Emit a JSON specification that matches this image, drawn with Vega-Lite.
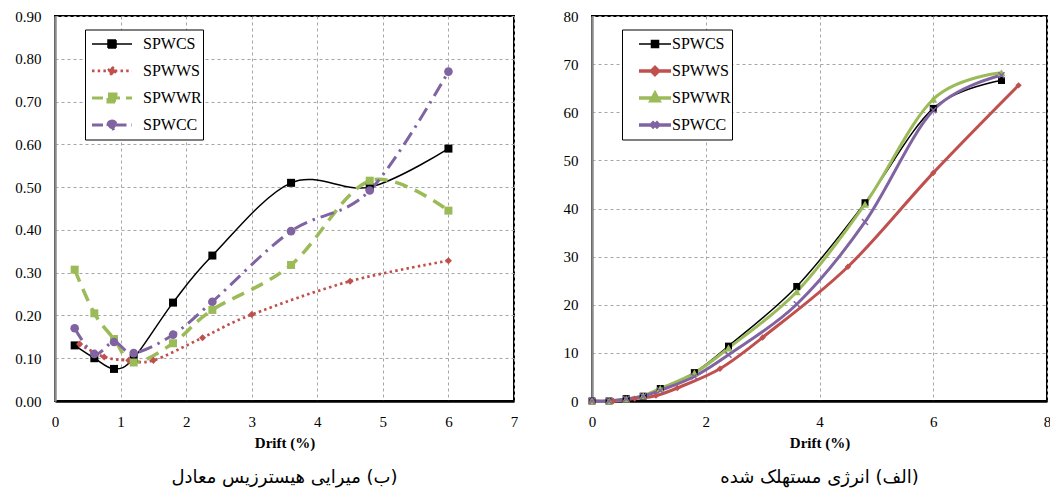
{
  "$schema": "https://vega.github.io/schema/vega-lite/v6.json",
  "padding": {"left": 0, "top": 8, "right": 0, "bottom": 0},
  "spacing": 42,
  "background": "white",
  "config": {
    "view": {"stroke": "black", "strokeWidth": 2},
    "font": "Liberation Serif",
    "axis": {"ticks": false, "labelFont": "Liberation Serif", "labelFontSize": 15, "labelColor": "black", "labelFlush": false, "gridDash": [3, 3], "gridColor": "#a6a6a6", "gridWidth": 1, "titleFont": "Liberation Serif", "titleFontSize": 15, "titleFontWeight": "bold", "titleColor": "black"},
    "axisX": {"domainColor": "black", "domainWidth": 2.5, "labelPadding": 13, "titlePadding": 6},
    "axisY": {"domainColor": "#8c8c8c", "domainWidth": 2.5, "labelPadding": 14}
  },
  "resolve": {"scale": {"color": "independent"}, "legend": {"color": "independent"}},
  "datasets": {
    "hyst": [
      {"series": "SPWCS", "drift": 0.3, "value": 0.13},
      {"series": "SPWCS", "drift": 0.6, "value": 0.10},
      {"series": "SPWCS", "drift": 0.9, "value": 0.075},
      {"series": "SPWCS", "drift": 1.2, "value": 0.10},
      {"series": "SPWCS", "drift": 1.8, "value": 0.23},
      {"series": "SPWCS", "drift": 2.4, "value": 0.34},
      {"series": "SPWCS", "drift": 3.6, "value": 0.51},
      {"series": "SPWCS", "drift": 4.8, "value": 0.50},
      {"series": "SPWCS", "drift": 6.0, "value": 0.59},
      {"series": "SPWWS", "drift": 0.375, "value": 0.133},
      {"series": "SPWWS", "drift": 0.75, "value": 0.103},
      {"series": "SPWWS", "drift": 1.125, "value": 0.095},
      {"series": "SPWWS", "drift": 1.5, "value": 0.095},
      {"series": "SPWWS", "drift": 2.25, "value": 0.148},
      {"series": "SPWWS", "drift": 3.0, "value": 0.202},
      {"series": "SPWWS", "drift": 4.5, "value": 0.28},
      {"series": "SPWWS", "drift": 6.0, "value": 0.328},
      {"series": "SPWWR", "drift": 0.3, "value": 0.307},
      {"series": "SPWWR", "drift": 0.6, "value": 0.205},
      {"series": "SPWWR", "drift": 0.9, "value": 0.145},
      {"series": "SPWWR", "drift": 1.2, "value": 0.09},
      {"series": "SPWWR", "drift": 1.8, "value": 0.135},
      {"series": "SPWWR", "drift": 2.4, "value": 0.213},
      {"series": "SPWWR", "drift": 3.6, "value": 0.318},
      {"series": "SPWWR", "drift": 4.8, "value": 0.515},
      {"series": "SPWWR", "drift": 6.0, "value": 0.445},
      {"series": "SPWCC", "drift": 0.3, "value": 0.17},
      {"series": "SPWCC", "drift": 0.6, "value": 0.11},
      {"series": "SPWCC", "drift": 0.9, "value": 0.138},
      {"series": "SPWCC", "drift": 1.2, "value": 0.112},
      {"series": "SPWCC", "drift": 1.8, "value": 0.155},
      {"series": "SPWCC", "drift": 2.4, "value": 0.232},
      {"series": "SPWCC", "drift": 3.6, "value": 0.397},
      {"series": "SPWCC", "drift": 4.8, "value": 0.492},
      {"series": "SPWCC", "drift": 6.0, "value": 0.77}
    ],
    "energy": [
      {"series": "SPWCS", "drift": 0, "value": 0},
      {"series": "SPWCS", "drift": 0.3, "value": 0},
      {"series": "SPWCS", "drift": 0.6, "value": 0.5},
      {"series": "SPWCS", "drift": 0.9, "value": 1.0},
      {"series": "SPWCS", "drift": 1.2, "value": 2.6},
      {"series": "SPWCS", "drift": 1.8, "value": 5.9},
      {"series": "SPWCS", "drift": 2.4, "value": 11.4},
      {"series": "SPWCS", "drift": 3.6, "value": 23.8},
      {"series": "SPWCS", "drift": 4.8, "value": 41.2},
      {"series": "SPWCS", "drift": 6.0, "value": 60.8},
      {"series": "SPWCS", "drift": 7.2, "value": 66.6},
      {"series": "SPWWS", "drift": 0, "value": 0},
      {"series": "SPWWS", "drift": 0.375, "value": 0},
      {"series": "SPWWS", "drift": 0.75, "value": 0.5},
      {"series": "SPWWS", "drift": 1.125, "value": 1.1},
      {"series": "SPWWS", "drift": 1.5, "value": 2.7},
      {"series": "SPWWS", "drift": 2.25, "value": 6.7},
      {"series": "SPWWS", "drift": 3.0, "value": 13.2},
      {"series": "SPWWS", "drift": 4.5, "value": 27.9},
      {"series": "SPWWS", "drift": 6.0, "value": 47.4},
      {"series": "SPWWS", "drift": 7.5, "value": 65.6},
      {"series": "SPWWR", "drift": 0, "value": 0},
      {"series": "SPWWR", "drift": 0.3, "value": 0},
      {"series": "SPWWR", "drift": 0.6, "value": 0.4},
      {"series": "SPWWR", "drift": 0.9, "value": 1.1},
      {"series": "SPWWR", "drift": 1.2, "value": 2.6},
      {"series": "SPWWR", "drift": 1.8, "value": 5.8},
      {"series": "SPWWR", "drift": 2.4, "value": 11.0},
      {"series": "SPWWR", "drift": 3.6, "value": 22.7},
      {"series": "SPWWR", "drift": 4.8, "value": 40.9},
      {"series": "SPWWR", "drift": 6.0, "value": 62.7},
      {"series": "SPWWR", "drift": 7.2, "value": 68.2},
      {"series": "SPWCC", "drift": 0, "value": 0},
      {"series": "SPWCC", "drift": 0.3, "value": 0},
      {"series": "SPWCC", "drift": 0.6, "value": 0.4},
      {"series": "SPWCC", "drift": 0.9, "value": 1.0},
      {"series": "SPWCC", "drift": 1.2, "value": 2.2},
      {"series": "SPWCC", "drift": 1.8, "value": 5.1},
      {"series": "SPWCC", "drift": 2.4, "value": 9.6},
      {"series": "SPWCC", "drift": 3.6, "value": 20.1},
      {"series": "SPWCC", "drift": 4.8, "value": 37.2},
      {"series": "SPWCC", "drift": 6.0, "value": 60.4},
      {"series": "SPWCC", "drift": 7.2, "value": 67.7}
    ]
  },
  "hconcat": [
    {
      "width": 459,
      "height": 385,
      "title": {"text": "‏(ب) میرایی هیسترزیس معادل", "orient": "bottom", "font": "DejaVu Sans", "fontSize": 18, "fontWeight": "normal", "color": "black", "offset": 19},
      "data": {"name": "hyst"},
      "encoding": {
        "x": {"field": "drift", "type": "quantitative", "scale": {"domain": [0, 7], "nice": false}, "axis": {"title": "Drift (%)", "values": [0, 1, 2, 3, 4, 5, 6, 7]}},
        "y": {"field": "value", "type": "quantitative", "scale": {"domain": [0, 0.9], "nice": false}, "axis": {"title": null, "values": [0, 0.1, 0.2, 0.3, 0.4, 0.5, 0.6, 0.7, 0.8, 0.9], "format": ".2f", "minExtent": 54, "maxExtent": 54}}
      },
      "layer": [
        {"transform": [{"filter": "datum.series === 'SPWCS'"}], "mark": {"type": "line", "interpolate": "cardinal", "color": "#000000", "strokeWidth": 1.5}},
        {"transform": [{"filter": "datum.series === 'SPWWS'"}], "mark": {"type": "line", "interpolate": "cardinal", "color": "#C0504D", "strokeWidth": 2.7, "strokeDash": [2.5, 3.2]}},
        {"transform": [{"filter": "datum.series === 'SPWWR'"}], "mark": {"type": "line", "interpolate": "cardinal", "color": "#9BBB59", "strokeWidth": 3.5, "strokeDash": [13, 8]}},
        {"transform": [{"filter": "datum.series === 'SPWCC'"}], "mark": {"type": "line", "interpolate": "cardinal", "color": "#8064A2", "strokeWidth": 3, "strokeDash": [14, 6, 2.5, 6]}},
        {
          "transform": [{"filter": "datum.series === 'SPWCS'"}],
          "mark": {"type": "point", "filled": true, "opacity": 1, "size": 64, "shape": "square"},
          "encoding": {
            "color": {"field": "series", "type": "nominal", "scale": {"domain": ["SPWCS", "SPWWS", "SPWWR", "SPWCC"], "range": ["#000000", "#C0504D", "#9BBB59", "#8064A2"]},
              "legend": {
                "title": null,
                "orient": "none", "legendX": 30, "legendY": 13.5,
                "strokeColor": "black", "fillColor": "white", "padding": 1,
                "symbolSize": 1600, "symbolOffset": 18, "labelOffset": 23, "clipHeight": 26.8, "rowPadding": 0,
                "labelFont": "Liberation Serif", "labelFontSize": 16, "labelColor": "black",
                "symbolType": {"expr": "datum.value === 'SPWWS' ? 'M-1,0H1M0,-0.2L0.2,0L0,0.2L-0.2,0Z' : datum.value === 'SPWCC' ? 'M-1,0H1M-0.2,0A0.2,0.2,0,1,1,0.2,0A0.2,0.2,0,1,1,-0.2,0Z' : 'M-1,0H1M-0.2,-0.2H0.2V0.2H-0.2Z'"},
                "symbolDash": {"expr": "datum.value === 'SPWWS' ? [2.5,3.2] : datum.value === 'SPWWR' ? [11,6] : datum.value === 'SPWCC' ? [11,5,2.5,5] : [1,0]"},
                "symbolStrokeWidth": {"expr": "datum.value === 'SPWCS' ? 1.5 : datum.value === 'SPWWS' ? 2.7 : 3"},
                "symbolStrokeColor": {"expr": "datum.value === 'SPWCS' ? '#000000' : datum.value === 'SPWWS' ? '#C0504D' : datum.value === 'SPWWR' ? '#9BBB59' : '#8064A2'"},
                "symbolOpacity": 1
              }
            }
          }
        },
        {"transform": [{"filter": "datum.series === 'SPWWS'"}], "mark": {"type": "point", "filled": true, "opacity": 1, "size": 50, "shape": "diamond", "color": "#C0504D"}},
        {"transform": [{"filter": "datum.series === 'SPWWR'"}], "mark": {"type": "point", "filled": true, "opacity": 1, "size": 64, "shape": "square", "color": "#9BBB59"}},
        {"transform": [{"filter": "datum.series === 'SPWCC'"}], "mark": {"type": "point", "filled": true, "opacity": 1, "size": 75, "shape": "circle", "color": "#8064A2"}}
      ]
    },
    {
      "width": 455,
      "height": 385,
      "title": {"text": "‏(الف) انرژی مستهلک شده", "orient": "bottom", "font": "DejaVu Sans", "fontSize": 18, "fontWeight": "normal", "color": "black", "offset": 19},
      "data": {"name": "energy"},
      "encoding": {
        "x": {"field": "drift", "type": "quantitative", "scale": {"domain": [0, 8], "nice": false}, "axis": {"title": "Drift (%)", "values": [0, 2, 4, 6, 8]}},
        "y": {"field": "value", "type": "quantitative", "scale": {"domain": [0, 80], "nice": false}, "axis": {"title": null, "values": [0, 10, 20, 30, 40, 50, 60, 70, 80], "minExtent": 30, "maxExtent": 30}}
      },
      "layer": [
        {"transform": [{"filter": "datum.series === 'SPWWS'"}], "mark": {"type": "line", "interpolate": "cardinal", "color": "#C0504D", "strokeWidth": 3}},
        {"transform": [{"filter": "datum.series === 'SPWCS'"}], "mark": {"type": "line", "interpolate": "cardinal", "color": "#000000", "strokeWidth": 1.5}},
        {"transform": [{"filter": "datum.series === 'SPWWR'"}], "mark": {"type": "line", "interpolate": "cardinal", "color": "#9BBB59", "strokeWidth": 3}},
        {"transform": [{"filter": "datum.series === 'SPWCC'"}], "mark": {"type": "line", "interpolate": "cardinal", "color": "#8064A2", "strokeWidth": 3}},
        {
          "transform": [{"filter": "datum.series === 'SPWCS'"}],
          "mark": {"type": "point", "filled": true, "opacity": 1, "size": 49, "shape": "square"},
          "encoding": {
            "color": {"field": "series", "type": "nominal", "scale": {"domain": ["SPWCS", "SPWWS", "SPWWR", "SPWCC"], "range": ["#000000", "#C0504D", "#9BBB59", "#8064A2"]},
              "legend": {
                "title": null,
                "orient": "none", "legendX": 30, "legendY": 13.5,
                "strokeColor": "black", "fillColor": "white", "padding": 1,
                "symbolSize": 1024, "symbolOffset": 24, "labelOffset": 9, "clipHeight": 26.8, "rowPadding": 0,
                "labelFont": "Liberation Serif", "labelFontSize": 16, "labelColor": "black",
                "symbolType": {"expr": "datum.value === 'SPWWS' ? 'M-1,0H1M0,-0.22L0.22,0L0,0.22L-0.22,0Z' : datum.value === 'SPWWR' ? 'M-1,0H1M0,-0.28L0.25,0.18L-0.25,0.18Z' : datum.value === 'SPWCC' ? 'M-1,0H1M-0.2,-0.2L0.2,0.2M-0.2,0.2L0.2,-0.2' : 'M-1,0H1M-0.22,-0.22H0.22V0.22H-0.22Z'"},
                "symbolStrokeWidth": {"expr": "datum.value === 'SPWCS' ? 1.5 : 3.5"},
                "symbolStrokeColor": {"expr": "datum.value === 'SPWCS' ? '#000000' : datum.value === 'SPWWS' ? '#C0504D' : datum.value === 'SPWWR' ? '#9BBB59' : '#8064A2'"},
                "symbolOpacity": 1
              }
            }
          }
        },
        {"transform": [{"filter": "datum.series === 'SPWWS'"}], "mark": {"type": "point", "filled": true, "opacity": 1, "size": 40, "shape": "diamond", "color": "#C0504D"}},
        {"transform": [{"filter": "datum.series === 'SPWWR'"}], "mark": {"type": "point", "filled": true, "opacity": 1, "size": 64, "shape": "triangle-up", "color": "#9BBB59"}},
        {"transform": [{"filter": "datum.series === 'SPWCC'"}], "mark": {"type": "point", "filled": true, "opacity": 1, "size": 36, "shape": "M-1,-1L1,1M-1,1L1,-1", "color": "#8064A2", "stroke": "#8064A2", "strokeWidth": 1.5}}
      ]
    }
  ]
}
